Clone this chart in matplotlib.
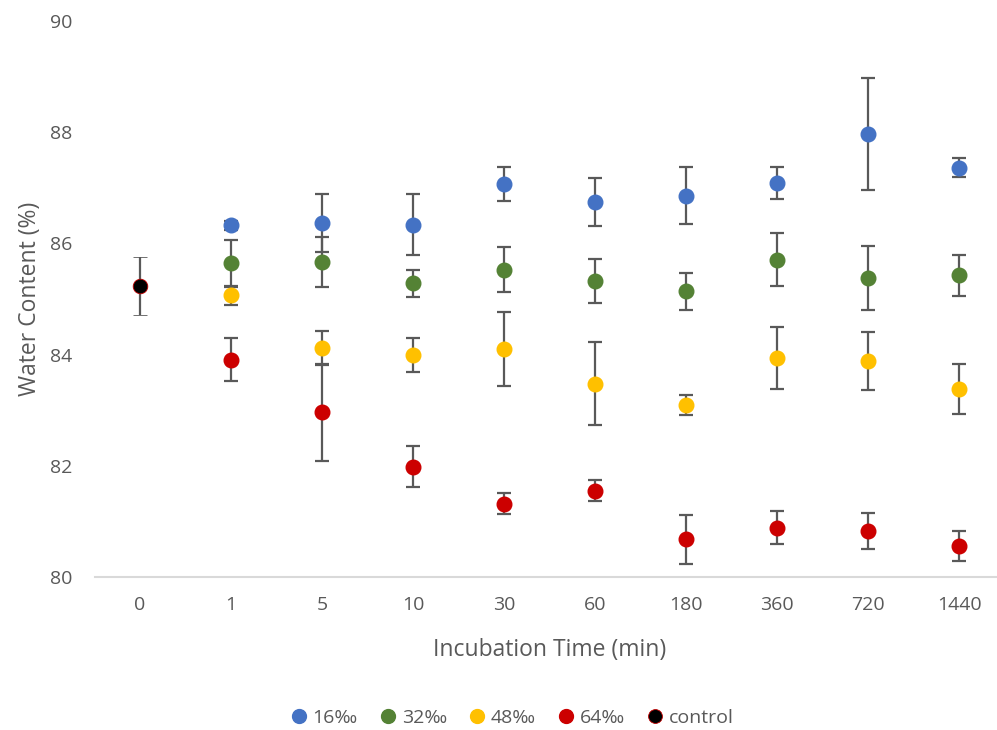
import numpy as np
import matplotlib
matplotlib.use("Agg")
import matplotlib.pyplot as plt

plt.rcParams['font.family'] = ['Open Sans', 'DejaVu Sans']

# categories on the x axis (incubation time, min)
times = ['0', '1', '5', '10', '30', '60', '180', '360', '720', '1440']

# mean water content (%) and error for each salinity, times 1..1440
wc_16 = [86.33, 86.36, 86.34, 87.07, 86.75, 86.86, 87.09, 87.97, 87.36]
err_16 = [0.08, 0.52, 0.55, 0.30, 0.43, 0.51, 0.29, 1.01, 0.17]
wc_32 = [85.64, 85.67, 85.28, 85.53, 85.32, 85.14, 85.71, 85.38, 85.43]
err_32 = [0.42, 0.45, 0.25, 0.40, 0.40, 0.33, 0.47, 0.57, 0.37]
wc_48 = [85.07, 84.12, 83.99, 84.10, 83.48, 83.10, 83.94, 83.88, 83.38]
err_48 = [0.17, 0.30, 0.31, 0.67, 0.74, 0.18, 0.56, 0.52, 0.45]
wc_64 = [83.91, 82.96, 81.98, 81.32, 81.55, 80.68, 80.89, 80.83, 80.56]
err_64 = [0.39, 0.88, 0.37, 0.19, 0.19, 0.44, 0.30, 0.32, 0.27]
wc_ctrl = [85.23]
err_ctrl = [0.52]

series = [
    ('16‰', wc_16, err_16, '#4472C4'),
    ('32‰', wc_32, err_32, '#548235'),
    ('48‰', wc_48, err_48, '#FFC000'),
    ('64‰', wc_64, err_64, '#CC0000'),
]

grey = '#595959'
fig = plt.figure(figsize=(9.97, 7.30), dpi=100)
ax = fig.add_axes([0.0948, 0.2096, 0.913, 0.7616])

x_treat = np.arange(1, len(times))
for name, vals, errs, col in series:
    ax.errorbar(x_treat, vals, yerr=errs, fmt='o', color=col, ms=10.5,
                ecolor=grey, elinewidth=1.6, capsize=5, capthick=1.6,
                label=name, zorder=3)
ax.errorbar([0], wc_ctrl, yerr=err_ctrl, fmt='o', color='black', mec='#C00000',
            mew=0.6, ms=10.5, ecolor=grey, elinewidth=1.6, capsize=5,
            capthick=1.6, label='control', zorder=3)

ax.set_xlim(-0.5, len(times) - 0.5)
ax.set_ylim(80, 90)
ax.set_xticks(np.arange(len(times)))
ax.set_xticklabels(times)
ax.set_yticks(np.arange(80, 91, 2))

for s in ['top', 'right', 'left']:
    ax.spines[s].set_visible(False)
ax.spines['bottom'].set_color('#D9D9D9')
ax.spines['bottom'].set_linewidth(1.5)
ax.tick_params(axis='both', length=0, labelsize=14, labelcolor=grey)
ax.tick_params(axis='x', pad=14)
ax.tick_params(axis='y', pad=16)

ax.set_xlabel('Incubation Time (min)', fontsize=16.5, color=grey, labelpad=17)
ax.set_ylabel('Water Content (%)', fontsize=16.5, color=grey, labelpad=6)

handles, labels = ax.get_legend_handles_labels()
handles = [h[0] for h in handles]
fig.legend(handles, labels, loc='center', bbox_to_anchor=(0.51, 0.017),
           ncol=5, frameon=False, fontsize=14, handletextpad=-0.1,
           columnspacing=0.75, handlelength=1.6, markerscale=0.95,
           labelcolor=grey)

fig.savefig('out.png', dpi=100)
